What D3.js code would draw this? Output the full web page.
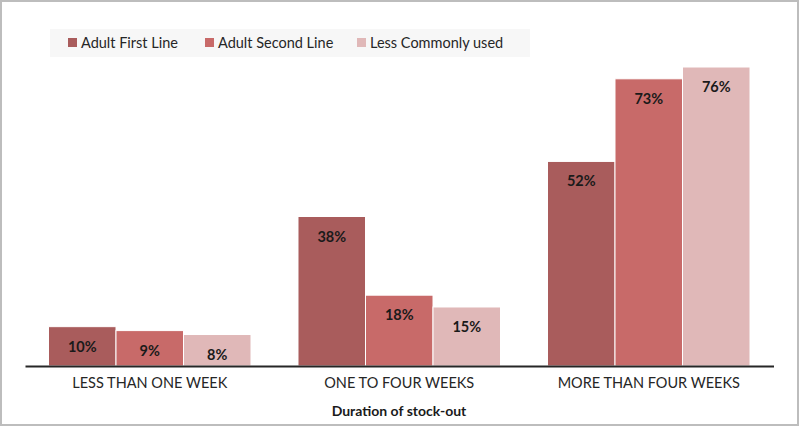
<!DOCTYPE html>
<html><head><meta charset="utf-8">
<script src="https://cdn.jsdelivr.net/npm/d3@7"></script>
<style>body{margin:0;background:#fff}svg{display:block}text{font-family:Lato,"Open Sans",sans-serif}</style>
</head><body><svg id="c" width="800" height="428"></svg>
<script>
const categories = ["LESS THAN ONE WEEK", "ONE TO FOUR WEEKS", "MORE THAN FOUR WEEKS"];
const seriesNames = ["Adult First Line", "Adult Second Line", "Less Commonly used"];
const adultFirst = [10, 38, 52];
const adultSecond = [9, 18, 73];
const lessCommon = [8, 15, 76];
const colors = ["#a95c5c", "#c86a69", "#e0b8b8"];
const axisTitle = "Duration of stock-out";

const series = [adultFirst, adultSecond, lessCommon];
const svg = d3.select("#c");
svg.append("rect").attr("x",1).attr("y",1).attr("width",797).attr("height",424)
  .attr("fill","#fff").attr("stroke","#bdbdbd").attr("stroke-width",2);

const baseY = 366;
const x0 = d3.scaleBand().domain(categories).range([25, 773.5]).paddingInner(0).paddingOuter(0);
const x1 = d3.scaleBand().domain(d3.range(3)).range([0, x0.bandwidth()]).paddingInner(0).paddingOuter(0.348);
const y = d3.scaleLinear().domain([0, 76]).range([baseY, 67]);

const g = svg.append("g");
categories.forEach((c, ci) => {
  series.forEach((s, si) => {
    const bx = x0(c) + x1(si);
    g.append("rect").attr("x", bx).attr("y", y(s[ci])).attr("width", x1.bandwidth())
      .attr("height", baseY - y(s[ci])).attr("fill", colors[si]).attr("stroke","#fff").attr("stroke-width",1);
    g.append("text").attr("x", bx + x1.bandwidth()/2).attr("y", y(s[ci]) + 25)
      .attr("text-anchor","middle").attr("font-size",14.5).attr("font-weight","bold").attr("fill","#1a1a1a")
      .text(s[ci] + "%");
  });
});

const axis = svg.append("g").attr("transform", `translate(0,${baseY})`)
  .call(d3.axisBottom(x0).tickSize(0).tickPadding(12));
axis.select(".domain").attr("stroke","#262626").attr("stroke-width",2);
axis.selectAll("text").attr("font-size",14.5).attr("fill","#262626").style("font-family","Lato,sans-serif");

svg.append("text").attr("x", 399).attr("y", 416).attr("text-anchor","middle")
  .attr("font-size",14).attr("font-weight","bold").attr("fill","#1a1a1a").text(axisTitle);

// legend
svg.append("rect").attr("x",50).attr("y",29).attr("width",480).attr("height",28).attr("fill","#f7f7f7");
const legX = [68, 205, 357];
seriesNames.forEach((n, i) => {
  svg.append("rect").attr("x", legX[i]).attr("y", 38).attr("width", 9).attr("height", 9).attr("fill", colors[i]);
  svg.append("text").attr("x", legX[i] + 13).attr("y", 47.5).attr("font-size",14.5).attr("fill","#262626").text(n);
});
</script></body></html>
